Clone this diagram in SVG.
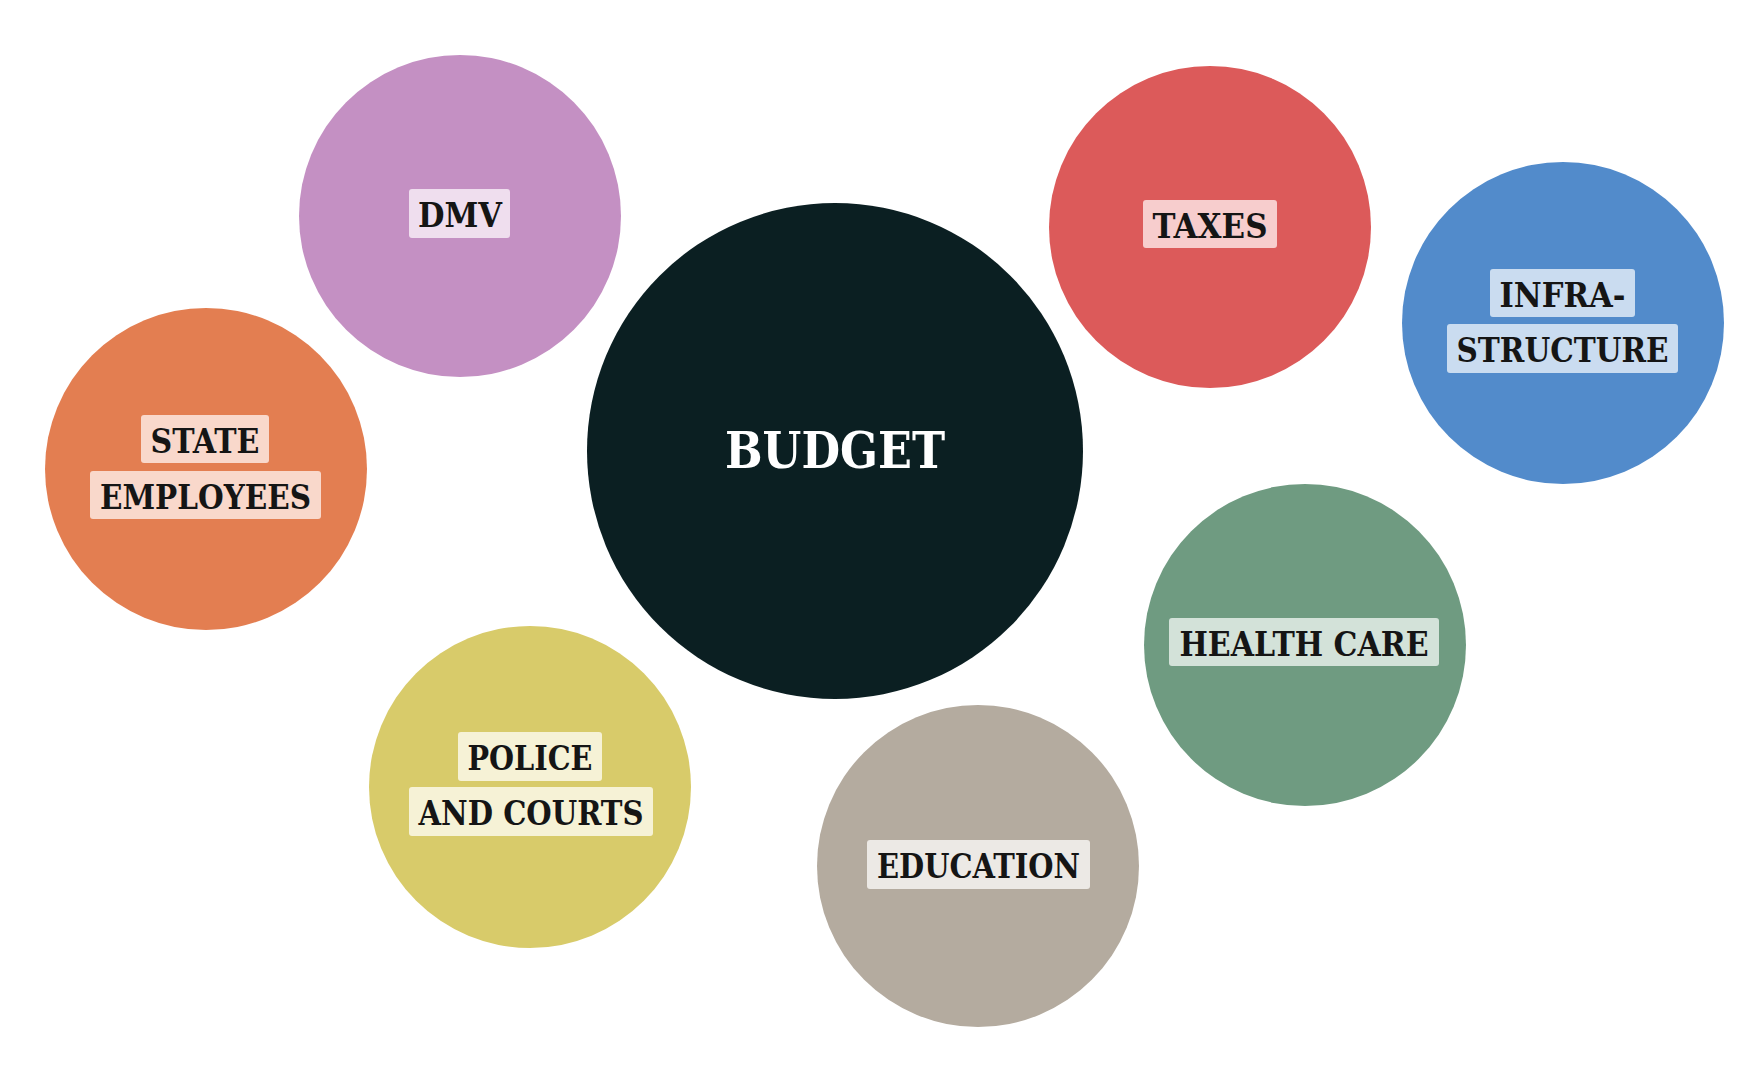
<svg xmlns="http://www.w3.org/2000/svg" width="1760" height="1074" viewBox="0 0 1760 1074">
<style>
.lbl{font-family:"DejaVu Serif Condensed","DejaVu Serif",serif;font-weight:bold;font-size:33px;fill:#151515;text-anchor:middle}
.main{font-family:"DejaVu Serif Condensed","DejaVu Serif",serif;font-weight:bold;font-size:50px;fill:#ffffff;text-anchor:middle}
</style>
<rect width="1760" height="1074" fill="#ffffff"/>
<g id="connectors"/>
<g id="dmv">
<circle cx="460" cy="216" r="161" fill="#C490C3"/>
<rect x="409" y="189" width="101" height="49" rx="3" fill="#EFDEEE"/>
<text class="lbl" x="460" y="227" textLength="84" lengthAdjust="spacingAndGlyphs">DMV</text>
</g>
<g id="state-employees">
<circle cx="206" cy="469" r="161" fill="#E37E51"/>
<rect x="141" y="415" width="128" height="48" rx="3" fill="#F9D8CB"/>
<text class="lbl" x="205" y="453" textLength="109" lengthAdjust="spacingAndGlyphs">STATE</text>
<rect x="90" y="471" width="231" height="48" rx="3" fill="#F9D8CB"/>
<text class="lbl" x="205.5" y="509" textLength="211" lengthAdjust="spacingAndGlyphs">EMPLOYEES</text>
</g>
<g id="budget">
<circle cx="835" cy="451" r="248" fill="#0B1F22"/>
<text class="main" x="835" y="468" textLength="220" lengthAdjust="spacingAndGlyphs">BUDGET</text>
</g>
<g id="taxes">
<circle cx="1210" cy="227" r="161" fill="#DC5A5A"/>
<rect x="1143" y="200" width="134" height="48" rx="3" fill="#F7CDCD"/>
<text class="lbl" x="1210" y="238" textLength="115" lengthAdjust="spacingAndGlyphs">TAXES</text>
</g>
<g id="infrastructure">
<circle cx="1563" cy="323" r="161" fill="#528BCB"/>
<rect x="1490" y="269" width="145" height="48" rx="3" fill="#CADCF0"/>
<text class="lbl" x="1562.5" y="307" textLength="126" lengthAdjust="spacingAndGlyphs">INFRA-</text>
<rect x="1447" y="324" width="231" height="49" rx="3" fill="#CADCF0"/>
<text class="lbl" x="1562.5" y="362" textLength="212" lengthAdjust="spacingAndGlyphs">STRUCTURE</text>
</g>
<g id="health-care">
<circle cx="1305" cy="645" r="161" fill="#6F9B81"/>
<rect x="1169" y="618" width="270" height="48" rx="3" fill="#D3E2D9"/>
<text class="lbl" x="1304" y="656" textLength="249" lengthAdjust="spacingAndGlyphs">HEALTH CARE</text>
</g>
<g id="education">
<circle cx="978" cy="866" r="161" fill="#B4AB9F"/>
<rect x="867" y="840" width="223" height="49" rx="3" fill="#ECE9E5"/>
<text class="lbl" x="978.5" y="878" textLength="203" lengthAdjust="spacingAndGlyphs">EDUCATION</text>
</g>
<g id="police-and-courts">
<circle cx="530" cy="787" r="161" fill="#D8CB6A"/>
<rect x="458" y="732" width="144" height="49" rx="3" fill="#F6F2D6"/>
<text class="lbl" x="530" y="770" textLength="125" lengthAdjust="spacingAndGlyphs">POLICE</text>
<rect x="409" y="787" width="244" height="49" rx="3" fill="#F6F2D6"/>
<text class="lbl" x="531" y="825" textLength="225" lengthAdjust="spacingAndGlyphs">AND COURTS</text>
</g>
</svg>
